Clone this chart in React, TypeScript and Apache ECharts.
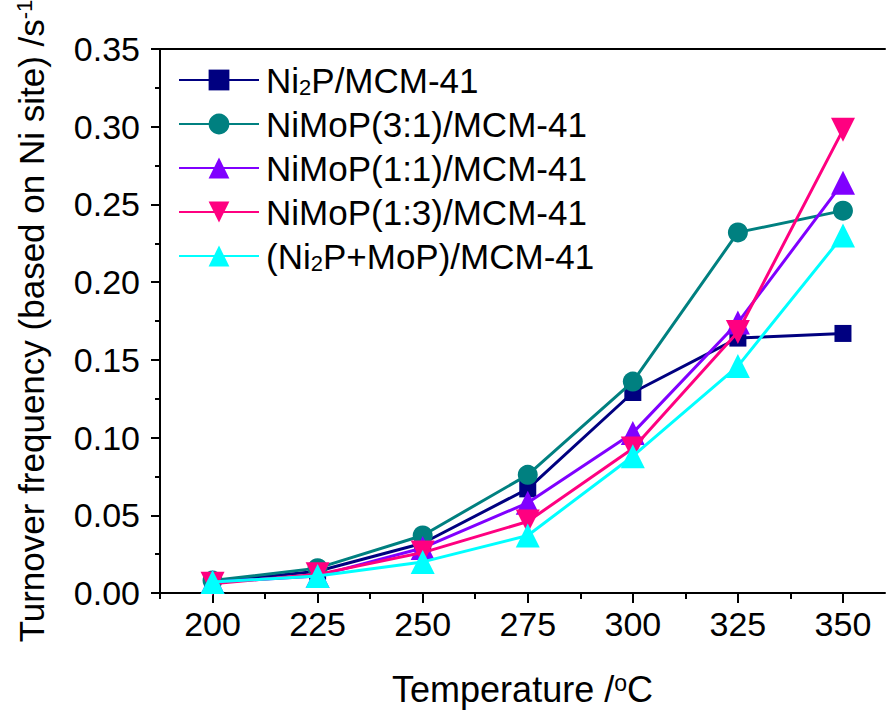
import React, { useEffect, useRef } from "react";
import * as echarts from "echarts";

const temperatures = [200, 225, 250, 275, 300, 325, 350];
const ni2p = [0.007, 0.014, 0.032, 0.067, 0.129, 0.164, 0.167];
const nimop31 = [0.008, 0.016, 0.037, 0.076, 0.136, 0.232, 0.246];
const nimop11 = [0.007, 0.011, 0.029, 0.058, 0.103, 0.174, 0.264];
const nimop13 = [0.006, 0.012, 0.026, 0.046, 0.093, 0.168, 0.298];
const mixture = [0.007, 0.011, 0.02, 0.037, 0.088, 0.146, 0.23];

const xMajorTicks = [200, 225, 250, 275, 300, 325, 350];
const xMinorTicks = [187.5, 212.5, 237.5, 262.5, 287.5, 312.5, 337.5];

const seriesNames = [
  "Ni2P/MCM-41",
  "NiMoP(3:1)/MCM-41",
  "NiMoP(1:1)/MCM-41",
  "NiMoP(1:3)/MCM-41",
  "(Ni2P+MoP)/MCM-41",
];
const seriesColors = ["#000080", "#008080", "#8000ff", "#ff0080", "#00ffff"];
const seriesSymbols = ["rect", "circle", "triangle", "triangle", "triangle"];
const seriesSymbolSizes = [17, 20, 24, 24, 24];
const seriesRotate = [0, 0, 0, 180, 0];
const seriesValues = [ni2p, nimop31, nimop11, nimop13, mixture];

const FONT = "Liberation Sans, Arial, sans-serif";

export default function App() {
  const ref = useRef<HTMLDivElement>(null);
  useEffect(() => {
    if (!ref.current) return;
    const chart = echarts.init(ref.current, null, { renderer: "svg" });
    const series = seriesNames.map((name, i) => ({
      name,
      type: "line",
      data: temperatures.map((t, j) => [t, seriesValues[i][j]]),
      symbol: seriesSymbols[i],
      symbolSize: seriesSymbolSizes[i],
      symbolRotate: seriesRotate[i],
      showAllSymbol: true,
      color: seriesColors[i],
      lineStyle: { width: 3, color: seriesColors[i] },
      itemStyle: { color: seriesColors[i] },
      xAxisIndex: 0,
      yAxisIndex: 0,
      z: 2 + i,
    }));
    chart.setOption({
      animation: false,
      backgroundColor: "#ffffff",
      textStyle: { fontFamily: FONT },
      grid: {
        left: 160,
        top: 49,
        right: 1,
        bottom: 120,
        containLabel: false,
        outerBoundsMode: "none",
      },
      legend: {
        orient: "vertical",
        left: 173,
        top: 57,
        itemWidth: 80,
        itemHeight: 26,
        itemGap: 8,
        data: seriesNames,
        formatter: (name: string) => name.replace(/Ni2P/g, "{n|Ni}{s|2}{n|P}"),
        textStyle: {
          fontFamily: FONT,
          fontSize: 35,
          color: "#000",
          padding: [0, 0, 0, 2],
          lineHeight: 36,
          rich: {
            n: { fontSize: 35, fontFamily: FONT, color: "#000", verticalAlign: "bottom" },
            s: { fontSize: 22, fontFamily: FONT, color: "#000", verticalAlign: "bottom" },
          },
        },
      },
      xAxis: [
        {
          type: "value",
          position: "bottom",
          min: 187.5,
          max: 360,
          name: "Temperature /{sup|o}C",
          nameLocation: "middle",
          nameGap: 78,
          nameTextStyle: {
            fontFamily: FONT,
            fontSize: 36,
            color: "#000",
            rich: {
              sup: { fontSize: 23, fontFamily: FONT, color: "#000", verticalAlign: "top", padding: [0, 0, 14, 0] },
            },
          },
          axisLine: { show: true, lineStyle: { color: "#000", width: 2 } },
          axisTick: {
            show: true,
            customValues: xMajorTicks,
            length: 10,
            inside: false,
            lineStyle: { color: "#000", width: 2 },
          },
          axisLabel: {
            customValues: xMajorTicks,
            fontFamily: FONT,
            fontSize: 34,
            color: "#000",
            margin: 14,
          },
          splitLine: { show: false },
        },
        {
          type: "value",
          position: "bottom",
          min: 187.5,
          max: 360,
          axisLine: { show: false },
          axisTick: {
            show: true,
            customValues: xMinorTicks,
            length: 6,
            inside: false,
            lineStyle: { color: "#000", width: 2 },
          },
          axisLabel: { show: false },
          splitLine: { show: false },
        },
        {
          type: "value",
          position: "top",
          min: 187.5,
          max: 360,
          axisLine: { show: true, lineStyle: { color: "#000", width: 2 } },
          axisTick: { show: false },
          axisLabel: { show: false },
          splitLine: { show: false },
        },
      ],
      yAxis: [
        {
          type: "value",
          min: 0,
          max: 0.35,
          interval: 0.05,
          name: "Turnover frequency (based on Ni site) /s{sup|-1}",
          nameLocation: "middle",
          nameRotate: 90,
          nameGap: 111,
          nameTextStyle: {
            fontFamily: FONT,
            fontSize: 35,
            color: "#000",
            rich: {
              sup: { fontSize: 22, fontFamily: FONT, color: "#000", verticalAlign: "top", padding: [0, 0, 14, 0] },
            },
          },
          axisLine: { show: true, lineStyle: { color: "#000", width: 2 } },
          axisTick: { show: true, length: 9, inside: false, lineStyle: { color: "#000", width: 2 } },
          minorTick: { show: true, splitNumber: 2, length: 5, lineStyle: { color: "#000", width: 2 } },
          axisLabel: {
            fontFamily: FONT,
            fontSize: 34,
            color: "#000",
            margin: 20,
            formatter: (v: number) => v.toFixed(2),
          },
          splitLine: { show: false },
        },
      ],
      series,
    });
    return () => chart.dispose();
  }, []);
  return (
    <div
      ref={ref}
      style={{ position: "fixed", left: 0, top: 0, width: 886, height: 713, background: "#fff" }}
    />
  );
}
